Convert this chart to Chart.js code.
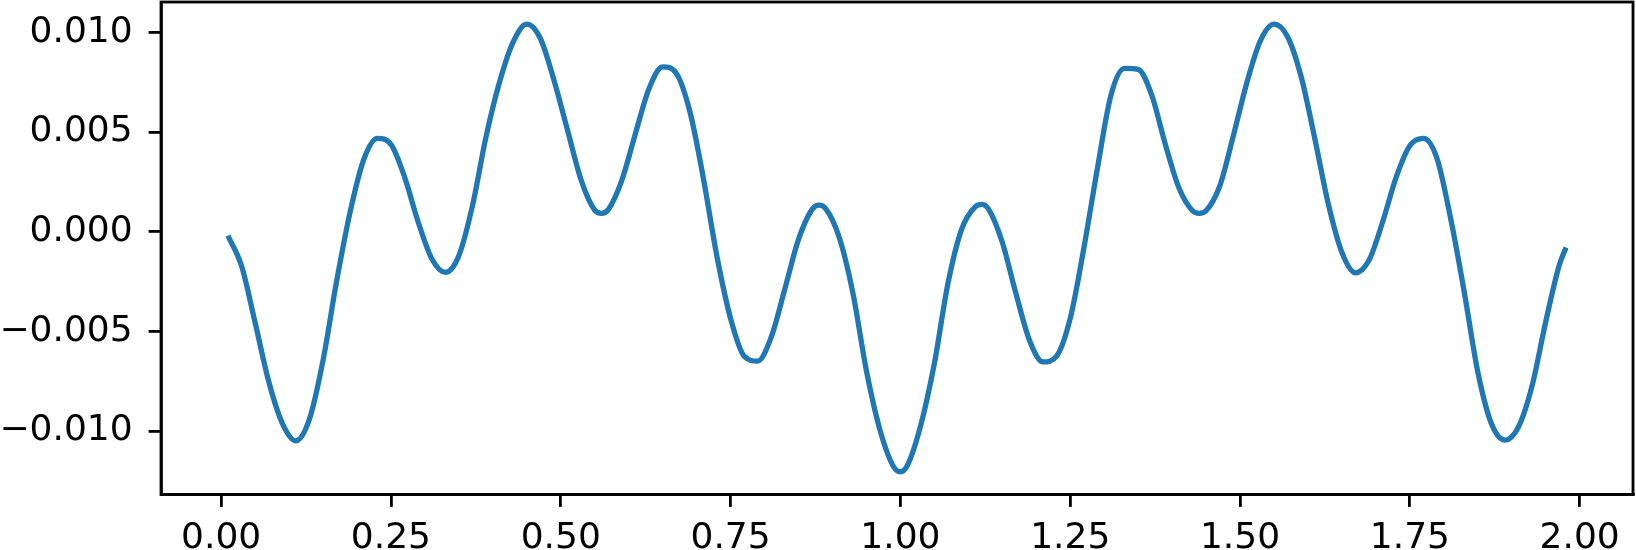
<!DOCTYPE html>
<html>
<head>
<meta charset="utf-8">
<script src="https://cdn.jsdelivr.net/npm/chart.js@4.4.1/dist/chart.umd.min.js"></script>
<style>
  html, body { margin: 0; padding: 0; background: #fff; }
  canvas { display: block; }
</style>
</head>
<body>
<canvas id="myChart" width="1636" height="550"></canvas>
<script>
// x positions of the samples
const xValues = [
  0.01, 0.03, 0.05, 0.07, 0.09, 0.11, 0.13, 0.15, 0.17, 0.19,
  0.21, 0.23, 0.25, 0.27, 0.29, 0.31, 0.33, 0.35, 0.37, 0.39,
  0.41, 0.43, 0.45, 0.47, 0.49, 0.51, 0.53, 0.55, 0.56, 0.57,
  0.59, 0.61, 0.63, 0.65, 0.67, 0.69, 0.71, 0.73, 0.75, 0.77,
  0.79, 0.81, 0.83, 0.85, 0.87, 0.88, 0.89, 0.91, 0.93, 0.95,
  0.97, 0.99, 1.00, 1.01, 1.03, 1.05, 1.07, 1.09, 1.11, 1.12,
  1.13, 1.15, 1.17, 1.19, 1.21, 1.23, 1.25, 1.27, 1.29, 1.31,
  1.33, 1.35, 1.37, 1.39, 1.41, 1.43, 1.44, 1.45, 1.47, 1.49,
  1.51, 1.53, 1.55, 1.57, 1.59, 1.61, 1.63, 1.65, 1.67, 1.69,
  1.71, 1.73, 1.75, 1.77, 1.79, 1.81, 1.83, 1.85, 1.87, 1.89,
  1.91, 1.93, 1.95, 1.97, 1.98
]

const yValues = [
  -0.00020, -0.00171, -0.00455, -0.00750, -0.00960, -0.01049, -0.00940, -0.00646, -0.00249, 0.00100,
  0.00362, 0.00468, 0.00438, 0.00275, 0.00050, -0.00134, -0.00204, -0.00120, 0.00130, 0.00476,
  0.00752, 0.00952, 0.01041, 0.00969, 0.00760, 0.00509, 0.00259, 0.00108, 0.00092, 0.00111,
  0.00259, 0.00493, 0.00718, 0.00827, 0.00795, 0.00604, 0.00267, -0.00125, -0.00435, -0.00624,
  -0.00649, -0.00527, -0.00286, -0.00039, 0.00112, 0.00133, 0.00116, -0.00029, -0.00306, -0.00697,
  -0.00995, -0.01179, -0.01204, -0.01174, -0.00970, -0.00661, -0.00260, 0.00011, 0.00125, 0.00137,
  0.00112, -0.00053, -0.00309, -0.00544, -0.00653, -0.00624, -0.00435, -0.00084, 0.00317, 0.00685,
  0.00819, 0.00814, 0.00685, 0.00439, 0.00220, 0.00105, 0.00092, 0.00105, 0.00228, 0.00479,
  0.00747, 0.00958, 0.01041, 0.00978, 0.00777, 0.00468, 0.00138, -0.00104, -0.00206, -0.00142,
  0.00050, 0.00275, 0.00431, 0.00468, 0.00367, 0.00067, -0.00301, -0.00703, -0.00962, -0.01045,
  -0.00978, -0.00772, -0.00452, -0.00167, -0.00079
]

const xTicks = [0, 0.25, 0.5, 0.75, 1, 1.25, 1.5, 1.75, 2]
const yTicks = [-0.01, -0.005, 0, 0.005, 0.01]

const FONT = { family: 'DejaVu Sans', size: 36 }
const SPINE = 2.8

// matplotlib style box around the plot area
const frame = {
    id: 'frame',
    afterDraw(chart) {
        const { ctx, chartArea: a } = chart
        ctx.save()
        ctx.strokeStyle = '#000'
        ctx.lineWidth = SPINE
        ctx.strokeRect(a.left, a.top, a.right - a.left, a.bottom - a.top)
        ctx.restore()
    }
}

const axisGrid = {
    drawOnChartArea: false,
    drawTicks: true,
    tickLength: 12.4,
    tickWidth: SPINE,
    tickColor: '#000',
    lineWidth: SPINE,
    color: '#000'
}

new Chart(document.getElementById('myChart'), {
    type: 'line',
    data: {
        datasets: [{
            data: xValues.map((x, i) => ({ x: x, y: yValues[i] })),
            borderColor: '#1f77b4',
            borderWidth: 5.3,
            pointRadius: 0,
            cubicInterpolationMode: 'monotone',
            fill: false
        }]
    },
    options: {
        responsive: false,
        devicePixelRatio: 1,
        animation: false,
        layout: { padding: { left: 0, right: 3, top: 2, bottom: 0 } },
        plugins: {
            legend: { display: false },
            tooltip: { enabled: false }
        },
        scales: {
            x: {
                type: 'linear',
                min: -0.0885,
                max: 2.0785,
                afterBuildTicks: s => { s.ticks = xTicks.map(v => ({ value: v })) },
                afterFit: s => {
                    s.height = 55.5
                    s.paddingLeft = 0
                    s.paddingRight = 0
                },
                grid: axisGrid,
                border: { display: true, width: SPINE, color: '#000' },
                ticks: {
                    color: '#000',
                    font: FONT,
                    padding: 10,
                    maxRotation: 0,
                    autoSkip: false,
                    callback: v => v.toFixed(2)
                }
            },
            y: {
                type: 'linear',
                min: -0.01318,
                max: 0.01152,
                afterBuildTicks: s => { s.ticks = yTicks.map(v => ({ value: v })) },
                afterFit: s => {
                    s.width = 161
                    s.paddingTop = 0
                    s.paddingBottom = 0
                },
                grid: axisGrid,
                border: { display: true, width: SPINE, color: '#000' },
                ticks: {
                    color: '#000',
                    font: FONT,
                    padding: 16,
                    autoSkip: false,
                    callback: v => v.toFixed(3).replace('-', '\u2212')
                }
            }
        }
    },
    plugins: [frame]
})
</script>
</body>
</html>
